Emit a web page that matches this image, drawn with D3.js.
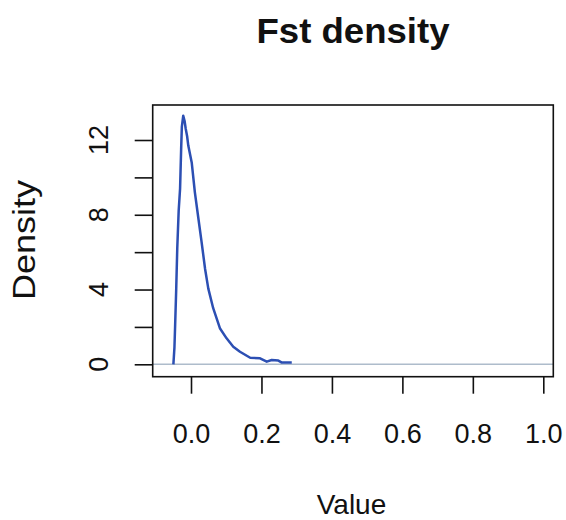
<!DOCTYPE html>
<html>
<head>
<meta charset="utf-8">
<script src="https://cdn.jsdelivr.net/npm/d3@7"></script>
<style>
  body { margin: 0; background: #fff; }
  text { font-family: "Liberation Sans", Arial, sans-serif; }
</style>
</head>
<body>
<div id="chart"></div>
<script>
// density estimate of Fst
var fstValue = [-0.050, -0.047, -0.045, -0.042, -0.039, -0.035, -0.031, -0.028, -0.026, -0.022,
                -0.018, -0.015, -0.011, -0.0077, 0.002, 0.011, 0.021, 0.030, 0.040, 0.049,
                0.063, 0.082, 0.101, 0.120, 0.139, 0.168, 0.196, 0.215, 0.229, 0.248, 0.258,
                0.270, 0.286];
var fstDensity = [0.0, 0.9, 2.1, 4.0, 6.2, 8.2, 9.4, 11.5, 12.7, 13.3,
                  13.0, 12.6, 12.2, 11.7, 10.8, 9.2, 7.8, 6.55, 5.1, 4.06,
                  3.0, 1.93, 1.39, 0.94, 0.67, 0.35, 0.32, 0.14, 0.23, 0.2, 0.09,
                  0.1, 0.1];
var xTicks = [0, 0.2, 0.4, 0.6, 0.8, 1.0];
var yTicks = [0, 2, 4, 6, 8, 10, 12];
var yLabelTicks = [0, 4, 8, 12];

var width = 566, height = 520;
var box = {left: 152.7, right: 553.3, top: 105, bottom: 376.7};

var svg = d3.select("#chart").append("svg")
    .attr("width", width)
    .attr("height", height);

var x = d3.scaleLinear().domain([0, 1]).range([191, 543.3]);
var y = d3.scaleLinear().domain([0, 12]).range([364.3, 140]);

// zero line
svg.append("line")
    .attr("x1", box.left).attr("x2", box.right)
    .attr("y1", y(0)).attr("y2", y(0))
    .attr("stroke", "#aebccb")
    .attr("stroke-width", 1.5);

// density curve
var line = d3.line()
    .x(function(d, i){ return x(fstValue[i]); })
    .y(function(d){ return y(d); });

svg.append("path")
    .datum(fstDensity)
    .attr("d", line)
    .attr("fill", "none")
    .attr("stroke", "#2c4fb3")
    .attr("stroke-width", 2.5)
    .attr("stroke-linejoin", "round");

// box
svg.append("rect")
    .attr("x", box.left).attr("y", box.top)
    .attr("width", box.right - box.left)
    .attr("height", box.bottom - box.top)
    .attr("fill", "none")
    .attr("stroke", "#111")
    .attr("stroke-width", 1.6);

// x axis
var xAxis = svg.append("g")
    .attr("transform", "translate(0," + box.bottom + ")")
    .call(d3.axisBottom(x).tickValues(xTicks).tickSize(17).tickPadding(30)
        .tickFormat(d3.format(".1f")));
xAxis.select(".domain").remove();
xAxis.selectAll("line").attr("stroke", "#111").attr("stroke-width", 1.6);
xAxis.selectAll("text")
    .attr("font-size", 27)
    .attr("font-family", "Liberation Sans, Arial, sans-serif")
    .attr("fill", "#111");

// y axis
var yAxis = svg.append("g")
    .attr("transform", "translate(" + box.left + ",0)")
    .call(d3.axisLeft(y).tickValues(yTicks).tickSize(18).tickFormat(""));
yAxis.select(".domain").remove();
yAxis.selectAll("line").attr("stroke", "#111").attr("stroke-width", 1.6);

svg.selectAll(".ylab")
    .data(yLabelTicks)
    .enter().append("text")
    .attr("class", "ylab")
    .attr("transform", function(d){ return "translate(108," + y(d) + ") rotate(-90)"; })
    .attr("text-anchor", "middle")
    .attr("font-size", 27)
    .attr("fill", "#111")
    .text(function(d){ return d; });

// titles
svg.append("text")
    .attr("x", (box.left + box.right) / 2)
    .attr("y", 43)
    .attr("text-anchor", "middle")
    .attr("font-size", 35)
    .attr("font-weight", "bold")
    .attr("textLength", 193)
    .attr("lengthAdjust", "spacingAndGlyphs")
    .attr("fill", "#111")
    .text("Fst density");

svg.append("text")
    .attr("x", 351.5)
    .attr("y", 514)
    .attr("text-anchor", "middle")
    .attr("font-size", 28)
    .attr("fill", "#111")
    .text("Value");

svg.append("text")
    .attr("transform", "translate(35," + 240 + ") rotate(-90)")
    .attr("text-anchor", "middle")
    .attr("font-size", 32)
    .attr("textLength", 120)
    .attr("lengthAdjust", "spacingAndGlyphs")
    .attr("fill", "#111")
    .text("Density");
</script>
</body>
</html>
